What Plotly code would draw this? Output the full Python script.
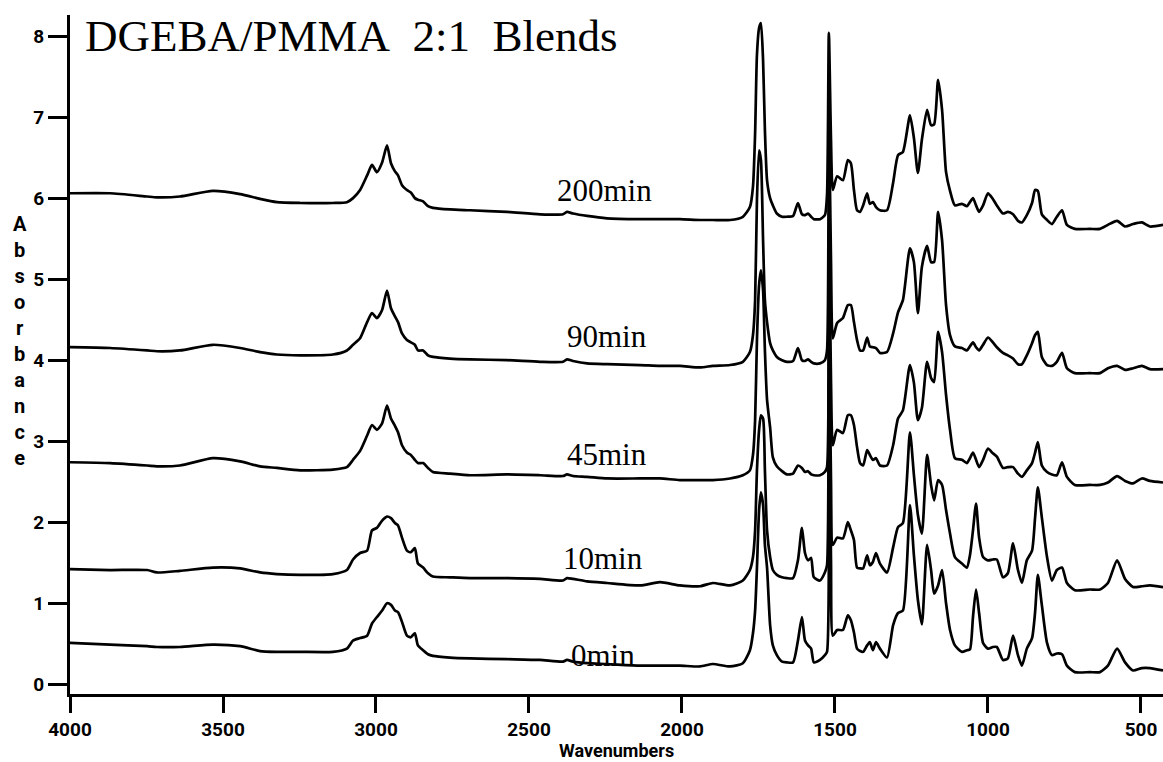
import plotly.graph_objects as go

# FTIR spectra of DGEBA/PMMA 2:1 blends at different cure times
# values (absorbance, shared wavenumber grid)

wavenumber = [
    4000, 3869, 3748, 3716, 3641, 3533, 3444, 3379, 3324, 3248, 3141, 3095,
    3075, 3052, 3029, 3013, 2997, 2980, 2964, 2951, 2938, 2928,
    2915, 2899, 2886, 2873, 2863, 2846, 2830, 2814, 2758,
    2693, 2572, 2464, 2389, 2376, 2356, 2310, 2245, 2137, 2072, 2007, 1941, 1899, 1843, 1801,
    1778, 1768, 1761, 1755, 1748, 1742, 1735, 1729, 1722, 1712, 1703,
    1690, 1673, 1657, 1637, 1621, 1608, 1598, 1588, 1578, 1569, 1549, 1533,
    1526, 1520, 1513, 1507, 1493, 1474, 1458, 1448, 1438, 1428,
    1418, 1408, 1395, 1386, 1376, 1366, 1353, 1330, 1310, 1294,
    1278, 1255, 1242, 1229, 1216, 1199, 1186, 1176, 1163, 1150,
    1137, 1124, 1108, 1085, 1069, 1059, 1049, 1039, 1029, 1016,
    1000, 984, 971, 951, 935, 918, 902, 889, 873, 856,
    846, 837, 824, 807, 791, 775, 758, 742, 716, 667,
    634, 608, 578, 552, 526, 497, 471, 428,
]

abs_0min = [
    0.51, 0.49, 0.47, 0.46, 0.46, 0.49, 0.47, 0.41, 0.40, 0.40, 0.40, 0.44,
    0.54, 0.57, 0.60, 0.75, 0.83, 0.91, 1.00, 0.98, 0.91, 0.89,
    0.77, 0.60, 0.58, 0.63, 0.48, 0.42, 0.37, 0.35, 0.33,
    0.32, 0.31, 0.30, 0.28, 0.30, 0.28, 0.26, 0.25, 0.23, 0.23, 0.23, 0.22, 0.25, 0.22, 0.26,
    0.42, 0.63, 0.91, 1.44, 2.15, 2.37, 2.21, 1.72, 1.44, 0.73, 0.48,
    0.36, 0.28, 0.27, 0.27, 0.54, 0.83, 0.54, 0.48, 0.44, 0.27, 0.30, 0.36,
    0.40, 3.75, 1.53, 0.60, 0.67, 0.67, 0.85, 0.79, 0.64, 0.44,
    0.41, 0.40, 0.48, 0.52, 0.42, 0.52, 0.44, 0.33, 0.73, 0.88,
    0.91, 2.21, 1.59, 1.04, 0.74, 1.72, 1.41, 1.12, 1.22, 1.41,
    1.00, 0.67, 0.48, 0.40, 0.42, 0.43, 0.83, 1.17, 0.88, 0.51,
    0.44, 0.46, 0.46, 0.30, 0.32, 0.60, 0.36, 0.23, 0.44, 0.57,
    0.89, 1.35, 0.98, 0.51, 0.36, 0.38, 0.37, 0.23, 0.15, 0.15,
    0.15, 0.23, 0.44, 0.27, 0.17, 0.20, 0.20, 0.17,
]

abs_10min = [
    1.42, 1.41, 1.41, 1.38, 1.40, 1.44, 1.43, 1.38, 1.36, 1.35, 1.36, 1.41,
    1.54, 1.62, 1.65, 1.90, 1.93, 2.02, 2.07, 2.05, 1.99, 1.96,
    1.81, 1.65, 1.63, 1.68, 1.49, 1.44, 1.37, 1.33, 1.32,
    1.31, 1.31, 1.30, 1.28, 1.31, 1.30, 1.27, 1.25, 1.22, 1.26, 1.22, 1.21, 1.25, 1.22, 1.28,
    1.41, 1.57, 1.90, 2.64, 3.14, 3.32, 3.28, 2.64, 1.90, 1.57, 1.41,
    1.35, 1.32, 1.31, 1.31, 1.53, 1.93, 1.62, 1.53, 1.56, 1.32, 1.28, 1.38,
    1.47, 4.49, 2.52, 1.72, 1.81, 1.80, 2.00, 1.90, 1.78, 1.44,
    1.43, 1.43, 1.59, 1.47, 1.51, 1.62, 1.49, 1.38, 1.69, 1.94,
    1.99, 3.11, 2.58, 2.09, 1.86, 2.83, 2.46, 2.27, 2.52, 2.46,
    2.15, 1.86, 1.57, 1.49, 1.44, 1.59, 1.90, 2.23, 1.81, 1.57,
    1.53, 1.54, 1.54, 1.32, 1.37, 1.74, 1.41, 1.25, 1.53, 1.65,
    2.06, 2.43, 2.06, 1.57, 1.28, 1.41, 1.44, 1.25, 1.16, 1.17,
    1.17, 1.25, 1.53, 1.30, 1.20, 1.21, 1.22, 1.20,
]

abs_45min = [
    2.74, 2.73, 2.70, 2.69, 2.70, 2.79, 2.75, 2.69, 2.67, 2.64, 2.65, 2.68,
    2.77, 2.88, 3.07, 3.20, 3.14, 3.22, 3.44, 3.28, 3.19, 3.11,
    2.95, 2.86, 2.83, 2.77, 2.73, 2.73, 2.67, 2.62, 2.60,
    2.58, 2.59, 2.58, 2.57, 2.59, 2.57, 2.56, 2.54, 2.54, 2.54, 2.52, 2.52, 2.52, 2.54, 2.58,
    2.64, 2.83, 3.26, 4.25, 4.93, 5.11, 4.86, 4.12, 3.51, 3.17, 2.80,
    2.69, 2.63, 2.59, 2.60, 2.70, 2.67, 2.62, 2.63, 2.59, 2.58, 2.58, 2.62,
    2.68, 5.60, 3.75, 2.95, 3.14, 3.10, 3.32, 3.32, 3.20, 2.93,
    2.73, 2.70, 2.89, 2.83, 2.77, 2.79, 2.70, 2.70, 2.95, 3.28,
    3.38, 3.94, 3.72, 3.26, 3.41, 3.98, 3.78, 3.73, 4.35, 4.10,
    3.57, 3.14, 2.79, 2.77, 2.73, 2.79, 2.86, 2.77, 2.68, 2.77,
    2.91, 2.85, 2.81, 2.67, 2.68, 2.68, 2.60, 2.56, 2.64, 2.73,
    2.86, 2.99, 2.70, 2.62, 2.59, 2.58, 2.74, 2.56, 2.46, 2.46,
    2.46, 2.49, 2.57, 2.51, 2.48, 2.54, 2.51, 2.49,
]

abs_90min = [
    4.16, 4.15, 4.12, 4.11, 4.12, 4.19, 4.15, 4.10, 4.07, 4.06, 4.07, 4.12,
    4.19, 4.27, 4.47, 4.58, 4.52, 4.62, 4.86, 4.64, 4.54, 4.47,
    4.33, 4.25, 4.22, 4.19, 4.12, 4.12, 4.06, 4.04, 4.02,
    4.01, 4.00, 3.98, 3.98, 4.01, 3.99, 3.96, 3.95, 3.94, 3.93, 3.93, 3.91, 3.93, 3.94, 3.98,
    4.10, 4.31, 4.74, 5.98, 6.59, 6.47, 5.48, 4.74, 4.47, 4.21, 4.12,
    4.04, 4.00, 3.98, 3.99, 4.15, 4.00, 3.99, 4.01, 3.98, 3.96, 3.96, 4.00,
    4.12, 6.96, 5.23, 4.27, 4.46, 4.52, 4.68, 4.68, 4.47, 4.25,
    4.12, 4.12, 4.28, 4.17, 4.16, 4.15, 4.09, 4.10, 4.33, 4.59,
    4.74, 5.38, 5.21, 4.58, 5.15, 5.41, 5.21, 5.21, 5.83, 5.48,
    4.68, 4.31, 4.17, 4.15, 4.12, 4.17, 4.22, 4.16, 4.12, 4.19,
    4.28, 4.22, 4.16, 4.09, 4.06, 4.02, 3.95, 3.95, 4.06, 4.21,
    4.31, 4.35, 4.04, 3.94, 3.93, 3.98, 4.09, 3.90, 3.84, 3.84,
    3.84, 3.90, 3.93, 3.88, 3.90, 3.93, 3.89, 3.89,
]

abs_200min = [
    6.06, 6.06, 6.02, 6.01, 6.02, 6.09, 6.05, 5.99, 5.95, 5.94, 5.94, 5.95,
    6.00, 6.10, 6.28, 6.41, 6.32, 6.44, 6.65, 6.43, 6.33, 6.28,
    6.16, 6.10, 6.07, 6.00, 5.98, 5.96, 5.90, 5.88, 5.86,
    5.85, 5.83, 5.80, 5.80, 5.83, 5.81, 5.78, 5.75, 5.74, 5.74, 5.74, 5.73, 5.73, 5.73, 5.77,
    5.89, 6.14, 6.80, 7.77, 8.10, 8.16, 7.70, 6.84, 6.22, 6.00, 5.91,
    5.81, 5.77, 5.77, 5.78, 5.94, 5.80, 5.79, 5.81, 5.77, 5.74, 5.74, 5.79,
    6.04, 8.04, 6.72, 6.10, 6.27, 6.22, 6.47, 6.43, 6.10, 5.85,
    5.83, 5.91, 6.06, 5.93, 5.95, 5.89, 5.85, 5.85, 6.19, 6.53,
    6.57, 7.02, 6.74, 6.31, 6.72, 7.09, 6.90, 6.91, 7.46, 7.09,
    6.32, 6.09, 5.91, 5.93, 5.90, 5.95, 6.00, 5.91, 5.83, 5.91,
    6.06, 5.99, 5.91, 5.81, 5.83, 5.80, 5.72, 5.70, 5.79, 5.94,
    6.10, 6.09, 5.80, 5.73, 5.68, 5.77, 5.85, 5.67, 5.62, 5.62,
    5.62, 5.67, 5.72, 5.65, 5.68, 5.70, 5.65, 5.67,
]

curves = [
    ('0min', abs_0min),
    ('10min', abs_10min),
    ('45min', abs_45min),
    ('90min', abs_90min),
    ('200min', abs_200min),
]

# where each cure-time label sits (wavenumber, absorbance)
label_wn = [2258, 2258, 2245, 2245, 2252]
label_abs = [0.36, 1.55, 2.83, 4.29, 6.10]

x_ticks = [4000, 3500, 3000, 2500, 2000, 1500, 1000, 500]
y_ticks = [0, 1, 2, 3, 4, 5, 6, 7, 8]

for name, ys in curves:
    assert len(ys) == len(wavenumber), name

fig = go.Figure()
for name, ys in curves:
    fig.add_trace(go.Scatter(x=wavenumber, y=ys, mode='lines', name=name,
                             line=dict(color='black', width=2.7, shape='spline', smoothing=0.6),
                             showlegend=False, hoverinfo='skip'))

for (name, ys), xw, ya in zip(curves, label_wn, label_abs):
    fig.add_annotation(x=xw, y=ya, text=name, showarrow=False,
                       font=dict(family='Liberation Serif', size=31, color='black'))

# title inside the frame
fig.add_annotation(x=3958, y=8.0, xanchor='left', yanchor='middle', showarrow=False,
                   text='DGEBA/PMMA\u00a0 2:1\u00a0 Blends',
                   font=dict(family='Liberation Serif', size=45, color='black'))

# stacked y title, as on the plotter output
fig.add_annotation(xref='paper', yref='paper', x=-0.046, y=0.52,
                   xanchor='center', yanchor='middle', showarrow=False,
                   text='<br>'.join('Absorbance'),
                   font=dict(family='Roboto', size=20, color='black', weight='bold'))

fig.add_annotation(xref='paper', yref='paper', x=0.50, y=-0.0995,
                   xanchor='center', yanchor='bottom', showarrow=False, borderpad=0,
                   text='Wavenumbers',
                   font=dict(family='Roboto', size=18, color='black', weight='bold'))

axis_font = dict(family='Roboto', size=19, color='black', weight='bold')

fig.update_xaxes(range=[4000, 428], tickvals=x_ticks, ticktext=[str(t) for t in x_ticks],
                 ticks='outside', ticklen=16, tickwidth=2.5, tickcolor='black',
                 showline=True, linewidth=3, linecolor='black',
                 showgrid=False, zeroline=False, tickfont=axis_font)
fig.update_yaxes(range=[-0.12, 8.26], tickvals=y_ticks,
                 ticks='outside', ticklen=19, tickwidth=2.5, tickcolor='black',
                 showline=True, linewidth=3, linecolor='black',
                 showgrid=False, zeroline=False, tickfont=axis_font)

fig.update_layout(width=1163, height=762, autosize=False,
                  margin=dict(l=70, r=0, t=15, b=68),
                  plot_bgcolor='white', paper_bgcolor='white')

# the page body has a default 8px margin; drop it so the figure fills the window
fig.write_html("out.html", config={'displayModeBar': False},
               post_script="document.body.style.margin='0';")
